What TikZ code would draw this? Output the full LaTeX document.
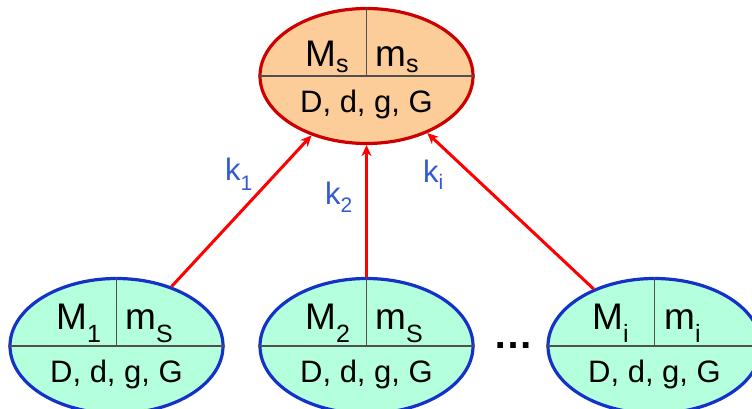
\documentclass[tikz,border=0pt]{standalone}
\usepackage{fontspec}
\setmainfont{Liberation Sans}
\usetikzlibrary{shapes.geometric,arrows.meta}
\definecolor{peach}{RGB}{252,204,153}
\definecolor{mint}{RGB}{180,255,220}
\definecolor{darkred}{RGB}{204,0,0}
\definecolor{ellblue}{RGB}{20,50,200}
\definecolor{lblblue}{RGB}{50,90,210}
\definecolor{divgray}{RGB}{80,80,80}
\newcommand{\bigf}{\fontsize{37}{40}\selectfont}
\newcommand{\subf}{\fontsize{25}{25}\selectfont}
\newcommand{\rowf}{\fontsize{31}{34}\selectfont}
\newcommand{\kf}{\fontsize{31}{33}\selectfont}
\newcommand{\ksubf}{\fontsize{21}{21}\selectfont}
\newcommand{\mysub}[2]{\raisebox{-#1pt}{\subf #2}}
\newcommand{\myksub}[2]{\raisebox{-#1pt}{\ksubf #2}}
\begin{document}
\begin{tikzpicture}[x=1pt,y=-1pt,
  ell/.style={ellipse, minimum width=213pt, minimum height=135pt, inner sep=0pt, line width=3.2pt},
  topell/.style={ell, draw=darkred, fill=peach},
  botell/.style={ell, draw=ellblue, fill=mint},
  divider/.style={draw=divgray, line width=1.5pt},
  txt/.style={inner sep=0pt, anchor=base west, font=\bigf},
  rowtxt/.style={inner sep=0pt, anchor=base, font=\rowf},
  link/.style={draw=red, line width=3pt, -{Stealth[length=11pt,width=10pt]}},
  klabel/.style={text=lblblue, font=\kf, inner sep=0pt, anchor=base west}
]
\useasboundingbox (0,0) rectangle (752,409);

% ellipses
\node[topell] (s) at (366.5,76) {};
\node[botell] (b1) at (116.5,346) {};
\node[botell] (b2) at (366.5,346) {};
\node[botell] (bi) at (654.5,346) {};

% dividers
\foreach \n in {s,b1,b2,bi}{
  \draw[divider] (\n.west) -- (\n.east);
  \draw[divider] (\n.north) -- (\n.center);
}

% top texts
\node[txt] (sM) at (305,67) {M\mysub{6}{s}};
\node[txt] (sm) at (375,67) {m\mysub{6}{s}};
\node[rowtxt] (sr) at (366.5,113) {D, d, g, G};

% bottom left
\node[txt] (b1M) at (56,329) {M\mysub{13}{1}};
\node[txt] (b1m) at (125,329) {m\mysub{13}{S}};
\node[rowtxt] (b1r) at (116.5,382) {D, d, g, G};

% bottom middle
\node[txt] (b2M) at (305,329) {M\mysub{13}{2}};
\node[txt] (b2m) at (375,329) {m\mysub{13}{S}};
\node[rowtxt] (b2r) at (366.5,382) {D, d, g, G};

% bottom right
\node[txt] (biM) at (592,329) {M\mysub{13}{i}};
\node[txt] (bim) at (664,329) {m\mysub{13}{i}};
\node[rowtxt] (bir) at (654.5,382) {D, d, g, G};

% dots
\node[inner sep=0pt, anchor=base, font=\fontsize{40}{40}\selectfont\bfseries] (dots) at (513,348) {…};

% connectors
\draw[link] (b1) -- (s);
\draw[link] (b2) -- (s);
\draw[link] (bi) -- (s);

% labels
\node[klabel] (k1) at (225,180) {k\myksub{10}{1}};
\node[klabel] (k2) at (325,204) {k\myksub{8}{2}};
\node[klabel] (ki) at (423,182) {k\myksub{8}{i}};
\end{tikzpicture}
\end{document}
